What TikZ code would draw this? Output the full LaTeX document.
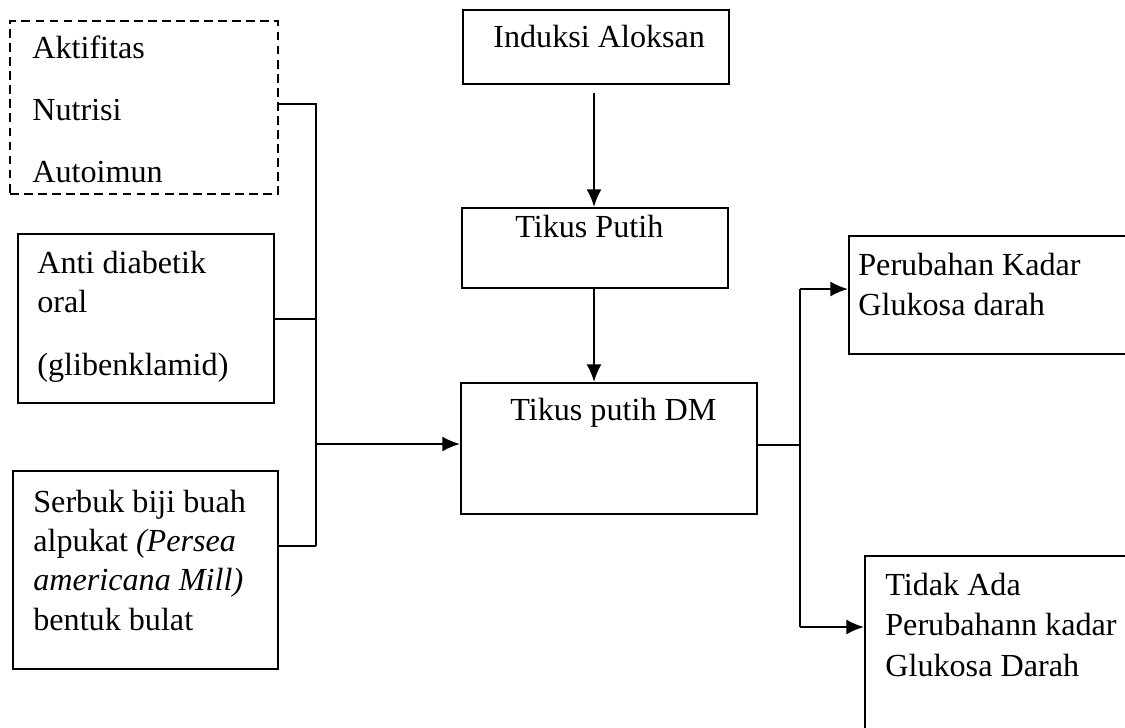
\documentclass[tikz,border=0pt]{standalone}
\usepackage{fontspec}
\setmainfont{Liberation Serif}
\usetikzlibrary{arrows.meta}
\tikzset{
  box/.style={draw, line width=1.3pt, inner sep=0pt, anchor=north west},
  dbox/.style={box, dash pattern=on 5pt off 3pt},
  txt/.style={inner sep=0pt, anchor=base west, font=\fontsize{18.3}{22}\selectfont},
  conn/.style={line width=1.2pt},
  arr/.style={line width=1.2pt, -{Latex[length=10pt,width=8.5pt]}},
}
\begin{document}
\begin{tikzpicture}[x=0.02cm, y=-0.02cm]
\useasboundingbox (0,0) rectangle (1125,727);
\clip (0,0) rectangle (1125,727);
% boxes
\node[dbox, minimum width=5.36cm, minimum height=3.46cm] (dash) at (9,20) {};
\node[box, minimum width=5.12cm, minimum height=3.38cm] (anti) at (17,233) {};
\node[box, minimum width=5.30cm, minimum height=3.96cm] (serbuk) at (12,470) {};
\node[box, minimum width=5.32cm, minimum height=1.48cm] (induksi) at (462,9) {};
\node[box, minimum width=5.32cm, minimum height=1.60cm] (tikus) at (461,207) {};
\node[box, minimum width=5.92cm, minimum height=2.62cm] (dm) at (460,382) {};
\node[box, minimum width=6.00cm, minimum height=2.36cm] (ubah) at (848,235) {};
\node[box, minimum width=5.80cm, minimum height=4.00cm] (tidak) at (864,555) {};
% texts
\node[txt] (t1) at (32,58) {Aktifitas};
\node[txt] (t2) at (32,120) {Nutrisi};
\node[txt] (t3) at (32,182) {Autoimun};
\node[txt] (t4) at (37,273) {Anti diabetik};
\node[txt] (t5) at (37,312) {oral};
\node[txt] (t6) at (37,375) {(glibenklamid)};
\node[txt] (t7) at (33,512) {Serbuk biji buah};
\node[txt] (t8) at (33,551) {alpukat \textit{(Persea}};
\node[txt] (t9) at (33,590) {\textit{americana Mill)}};
\node[txt] (t10) at (33,630) {bentuk bulat};
\node[txt] (t11) at (493,47) {Induksi Aloksan};
\node[txt] (t12) at (515,237) {Tikus Putih};
\node[txt] (t13) at (510,420) {Tikus putih DM};
\node[txt] (t14) at (858,275) {Perubahan Kadar};
\node[txt] (t15) at (858,315) {Glukosa darah};
\node[txt] (t16) at (885,595) {Tidak Ada};
\node[txt] (t17) at (885,635) {Perubahann kadar};
\node[txt] (t18) at (885,676) {Glukosa Darah};
% junctions
\coordinate (bus) at (316,104);
\coordinate (busb) at (316,546);
\coordinate (bin) at (316,444);
\coordinate (src) at (594,93);
\coordinate (rbus) at (800,445);
\coordinate (r1) at (800,289);
\coordinate (r2) at (800,627);
% left connectors
\draw[conn] (dash.east |- bus) -- (bus) -- (busb);
\draw[conn] (anti.east) -- (anti.east -| bus);
\draw[conn] (serbuk.east |- busb) -- (busb);
\draw[arr] (bin) -- (dm.west |- bin);
% vertical chain
\draw[arr] (src) -- (tikus.north -| src);
\draw[arr] (tikus.south -| src) -- (dm.north -| src);
% right connectors
\draw[conn] (dm.east |- rbus) -- (rbus);
\draw[conn] (r1) -- (r2);
\draw[arr] (r1) -- (ubah.west |- r1);
\draw[arr] (r2) -- (tidak.west |- r2);
\end{tikzpicture}
\end{document}
